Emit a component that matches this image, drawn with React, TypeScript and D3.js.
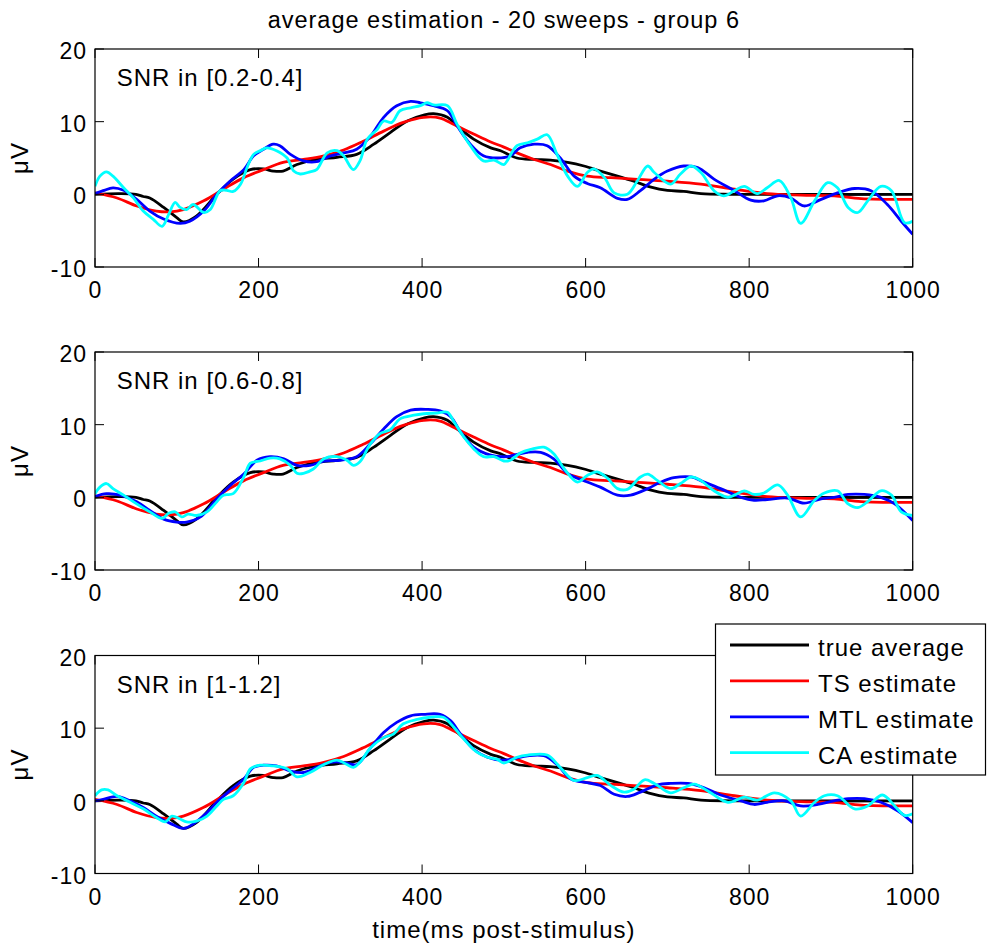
import React from "react";
import * as d3 from "d3";

const xTicks = [0, 200, 400, 600, 800, 1000];
const yTicks = [-10, 0, 10, 20];
const panelLabels = ["SNR in [0.2-0.4]", "SNR in [0.6-0.8]", "SNR in [1-1.2]"];
const seriesNames = ["true average", "TS estimate", "MTL estimate", "CA estimate"];
const seriesColors = ["#000000", "#ff0000", "#0000ff", "#00ffff"];

const trueAverage: [number, number][] = [[0,0],[30,0.1],[50,0],[59,-0.3],[67,-0.5],[84,-1.8],[100,-3.2],[108,-3.8],[124,-3.0],[149,0],[169,2.1],[190,3.4],[206,3.5],[218,3.2],[230,3.2],[247,4.1],[271,4.8],[296,5.1],[320,5.5],[341,6.9],[361,8.5],[382,10.1],[402,10.9],[414,11.1],[431,10.6],[443,9.4],[463,7.6],[484,6.4],[496,6.0],[516,5.0],[537,4.8],[557,4.7],[578,4.4],[598,3.9],[618,3.2],[639,2.5],[659,1.8],[680,1.0],[700,0.55],[720,0.4],[741,0.1],[780,0],[1000,0]];

const tsEstimate: [number, number][] = [[0,0.2],[27,-0.5],[51,-1.6],[75,-2.3],[92,-2.4],[108,-2.1],[133,-0.9],[157,0.7],[182,2.3],[206,3.4],[230,4.4],[255,4.8],[280,5.3],[304,6.1],[328,7.3],[353,8.7],[377,9.9],[402,10.6],[422,10.5],[439,9.6],[463,8.3],[484,7.2],[500,6.5],[516,5.7],[537,4.8],[557,4.1],[578,3.2],[602,2.5],[631,2.3],[659,2.1],[700,1.8],[741,1.4],[782,0.7],[822,0.1],[863,-0.1],[904,-0.2],[937,-0.6],[1000,-0.7]];

const mtl1: [number, number][] = [[0,0.1],[10,0.5],[22,0.9],[35,0.55],[51,-0.7],[67,-2.3],[84,-3.4],[104,-4.0],[116,-3.7],[133,-2.3],[149,0],[165,1.8],[182,3.4],[194,5.3],[206,6.2],[218,6.9],[226,6.7],[239,5.5],[255,4.6],[271,4.5],[288,5.3],[304,5.7],[320,6.2],[337,8.0],[353,10.6],[369,12.2],[386,12.8],[398,12.6],[414,12.2],[431,11.5],[443,9.4],[459,6.9],[475,5.3],[492,5.0],[508,5.3],[520,6.4],[537,6.9],[553,6.7],[569,5.0],[586,2.5],[602,1.5],[618,0.9],[639,-0.55],[651,-0.7],[667,0.5],[684,2.1],[700,3.2],[720,3.9],[737,3.7],[757,2.1],[782,0.5],[802,-0.8],[818,-0.9],[835,-0.2],[851,-0.5],[867,-1.6],[888,-0.7],[908,0.2],[929,0.8],[949,0.5],[969,-1.4],[986,-3.7],[1000,-5.5]];

const ca1: [number, number][] = [[0,1.1],[6,2.5],[14,3.1],[22,2.5],[35,0.9],[47,-0.5],[59,-2.3],[71,-3.4],[82,-4.4],[90,-2.8],[98,-1.1],[104,-1.8],[112,-2.1],[120,-1.4],[133,-2.5],[141,-2.1],[153,0.5],[161,0.55],[169,0.4],[178,1.4],[186,3.7],[194,5.5],[202,6.0],[210,6.4],[222,6.0],[235,5.0],[243,3.2],[251,2.8],[263,3.1],[271,3.4],[284,5.7],[296,6.0],[304,5.3],[316,3.4],[324,4.6],[333,7.6],[345,8.9],[353,10.1],[363,9.9],[373,11.5],[386,11.9],[398,12.2],[406,12.6],[414,12.3],[431,12.2],[443,9.6],[459,6.7],[475,4.6],[488,4.7],[500,4.1],[504,4.6],[516,6.7],[529,7.1],[541,7.6],[553,8.2],[565,5.5],[578,2.5],[590,1.1],[602,3.0],[610,3.5],[623,2.3],[635,0.2],[651,0],[663,1.8],[676,3.9],[684,3.0],[704,1.4],[716,2.8],[729,3.9],[741,3.0],[757,0.5],[769,-0.2],[782,0.5],[794,1.1],[810,0.1],[822,0.9],[837,1.9],[851,-0.5],[863,-4.0],[880,-0.9],[896,1.6],[908,0.9],[921,-1.8],[933,-2.5],[945,-0.9],[961,1.1],[974,0.5],[990,-3.9],[1000,-3.7]];

const mtl2: [number, number][] = [[0,0.1],[14,0.5],[31,0.3],[51,-0.6],[67,-1.8],[84,-3.0],[100,-3.4],[112,-3.4],[129,-2.7],[149,-0.2],[165,1.6],[182,3.2],[198,5.1],[214,5.6],[231,5.3],[247,4.4],[263,4.4],[280,5.0],[300,5.1],[320,5.6],[337,7.4],[353,9.4],[369,11.1],[386,12.0],[406,12.1],[422,11.9],[435,11.1],[447,9.0],[463,6.9],[484,5.8],[504,5.6],[512,5.8],[529,6.2],[545,6.2],[561,5.3],[578,3.3],[602,2.1],[618,1.4],[639,0.3],[655,0.3],[676,1.2],[692,2.1],[708,2.7],[729,2.8],[745,2.1],[765,1.2],[790,0],[806,-0.4],[822,-0.3],[847,-0.1],[867,-0.8],[888,-0.2],[904,0],[921,0.4],[941,0.4],[961,0],[978,-0.9],[1000,-3.2]];

const ca2: [number, number][] = [[0,0.5],[6,1.4],[14,1.9],[22,1.2],[35,0.3],[51,-0.9],[67,-2.0],[82,-2.9],[90,-2.2],[98,-2.0],[106,-2.7],[114,-2.3],[124,-2.5],[137,-2.0],[149,-0.6],[157,0.3],[169,0.5],[182,2.8],[190,4.7],[202,5.0],[214,5.4],[226,5.3],[239,4.4],[247,3.3],[255,3.3],[267,3.9],[280,5.3],[296,5.6],[308,5.1],[316,4.4],[324,4.9],[337,7.4],[349,8.8],[361,9.3],[373,10.8],[390,11.3],[402,11.5],[418,11.6],[431,11.7],[439,10.4],[451,8.3],[463,6.7],[475,5.6],[488,5.6],[500,5.0],[508,5.1],[520,6.1],[533,6.6],[549,6.9],[561,6.0],[574,3.9],[590,2.1],[602,3.0],[614,3.5],[627,2.6],[639,1.2],[651,1.1],[667,2.8],[676,3.2],[688,2.3],[704,1.2],[716,1.9],[729,2.8],[741,2.3],[757,0.9],[774,0],[782,0.3],[794,0.9],[806,0.4],[818,0.6],[835,1.7],[847,0.3],[863,-2.7],[880,-0.4],[892,0.6],[908,0.9],[921,-0.9],[933,-1.4],[945,-0.6],[961,0.9],[974,0.3],[986,-2.0],[1000,-2.5]];

const mtl3: [number, number][] = [[0,0],[10,0.2],[27,0.6],[43,0],[59,-0.9],[75,-2.1],[92,-3.1],[108,-3.8],[120,-3.2],[137,-1.6],[149,-0.2],[165,1.4],[182,3.0],[194,4.6],[206,4.9],[222,4.8],[239,4.1],[255,3.9],[271,4.6],[288,5.3],[304,5.3],[320,5.0],[337,7.3],[353,9.4],[369,10.8],[386,11.7],[402,11.9],[422,11.9],[435,11.0],[447,9.2],[463,7.1],[480,6.0],[496,5.6],[512,5.8],[529,6.2],[549,6.2],[565,5.0],[582,3.0],[602,2.5],[618,2.1],[635,0.9],[651,0.6],[667,1.2],[688,2.2],[704,2.4],[725,2.4],[745,1.8],[765,0.8],[790,0],[806,-0.5],[822,-0.2],[843,0],[863,-0.7],[884,-0.5],[904,0],[921,0.3],[941,0.3],[961,-0.2],[982,-1.4],[1000,-3.0]];

const ca3: [number, number][] = [[0,0.7],[8,1.5],[16,1.5],[27,0.7],[43,-0.2],[59,-1.1],[75,-2.3],[86,-2.9],[94,-2.1],[104,-2.5],[112,-2.9],[124,-2.8],[137,-2.1],[149,-0.7],[157,0.2],[169,0.7],[182,2.5],[190,4.4],[202,4.9],[218,4.8],[235,4.4],[247,3.3],[263,3.9],[280,5.0],[296,5.6],[308,5.0],[316,4.6],[324,5.3],[337,7.3],[353,8.7],[365,9.2],[377,10.6],[394,11.2],[410,11.5],[426,11.5],[439,10.1],[451,8.5],[467,6.7],[480,6.0],[492,5.7],[500,5.2],[516,6.0],[529,6.3],[553,6.3],[569,4.6],[586,2.8],[602,3.2],[614,3.5],[631,2.1],[647,1.2],[659,1.6],[672,2.9],[684,2.4],[704,1.1],[720,1.8],[733,2.3],[749,1.4],[774,-0.2],[794,0.5],[810,0.1],[831,1.1],[851,0],[863,-2.1],[880,-0.2],[892,0.7],[908,0.7],[929,-1.1],[945,-0.7],[963,0.8],[978,-0.7],[990,-2.0],[1000,-1.8]];

const panelSeries = [
  [trueAverage, tsEstimate, mtl1, ca1],
  [trueAverage, tsEstimate, mtl2, ca2],
  [trueAverage, tsEstimate, mtl3, ca3],
];

const W = 987, H = 947;
const LEFT = 95, RIGHT = 912.7;
const TOPS = [49, 352, 655.5];
const PH = 218;
const FONT = "'Liberation Sans', Arial, Helvetica, sans-serif";
const TICK = 9;

export default function App() {
  const x = d3.scaleLinear().domain([0, 1000]).range([LEFT, RIGHT]);
  const textStyle = { fontFamily: FONT, letterSpacing: "1px" } as React.CSSProperties;

  return (
    <svg width={W} height={H} style={{ position: "absolute", left: 0, top: 0, background: "#fff" }}>
      <rect x={0} y={0} width={W} height={H} fill="#fff" />
      <text x={(LEFT + RIGHT) / 2} y={28} textAnchor="middle" fontSize={23.5} style={textStyle}>
        average estimation - 20 sweeps - group 6
      </text>
      {panelSeries.map((series, pi) => {
        const top = TOPS[pi];
        const bottom = top + PH;
        const y = d3.scaleLinear().domain([-10, 20]).range([bottom, top]);
        const line = d3
          .line<[number, number]>()
          .x((d) => x(d[0]))
          .y((d) => y(d[1]))
          .curve(d3.curveCatmullRom.alpha(0.5));
        return (
          <g key={pi}>
            <defs>
              <clipPath id={`clip${pi}`}>
                <rect x={LEFT} y={top} width={RIGHT - LEFT} height={PH} />
              </clipPath>
            </defs>
            <g clipPath={`url(#clip${pi})`}>
              {series.map((s, si) => (
                <path key={si} d={line(s) || ""} fill="none" stroke={seriesColors[si]} strokeWidth={2.8} strokeLinejoin="round" />
              ))}
            </g>
            <rect x={LEFT} y={top} width={RIGHT - LEFT} height={PH} fill="none" stroke="#000" strokeWidth={1.2} />
            {xTicks.map((t) => (
              <g key={`x${t}`}>
                <line x1={x(t)} x2={x(t)} y1={bottom} y2={bottom - TICK} stroke="#000" strokeWidth={1} />
                <line x1={x(t)} x2={x(t)} y1={top} y2={top + TICK} stroke="#000" strokeWidth={1} />
                <text x={x(t) + 0.5} y={bottom + 31} textAnchor="middle" fontSize={23} style={textStyle}>
                  {t}
                </text>
              </g>
            ))}
            {yTicks.map((v) => (
              <g key={`y${v}`}>
                <line x1={LEFT} x2={LEFT + TICK} y1={y(v)} y2={y(v)} stroke="#000" strokeWidth={1} />
                <line x1={RIGHT} x2={RIGHT - TICK} y1={y(v)} y2={y(v)} stroke="#000" strokeWidth={1} />
                <text x={87} y={y(v) + 10} textAnchor="end" fontSize={23} style={textStyle}>
                  {v}
                </text>
              </g>
            ))}
            <text x={116.7} y={top + 37} fontSize={24} style={textStyle}>
              {panelLabels[pi]}
            </text>
            <text
              transform={`translate(28,${(top + bottom) / 2}) rotate(-90)`}
              textAnchor="middle"
              fontSize={24}
              style={textStyle}
            >
              μV
            </text>
          </g>
        );
      })}
      <text x={(LEFT + RIGHT) / 2} y={937.5} textAnchor="middle" fontSize={24} style={textStyle}>
        time(ms post-stimulus)
      </text>
      <g>
        <rect x={715.5} y={624} width={270} height={151} fill="#fff" stroke="#000" strokeWidth={1.2} />
        {seriesNames.map((name, i) => {
          const ly = 645 + i * 35.9;
          return (
            <g key={name}>
              <line x1={730} x2={809} y1={ly} y2={ly} stroke={seriesColors[i]} strokeWidth={2.8} />
              <text x={818} y={ly + 11} fontSize={24} style={textStyle}>
                {name}
              </text>
            </g>
          );
        })}
      </g>
    </svg>
  );
}
